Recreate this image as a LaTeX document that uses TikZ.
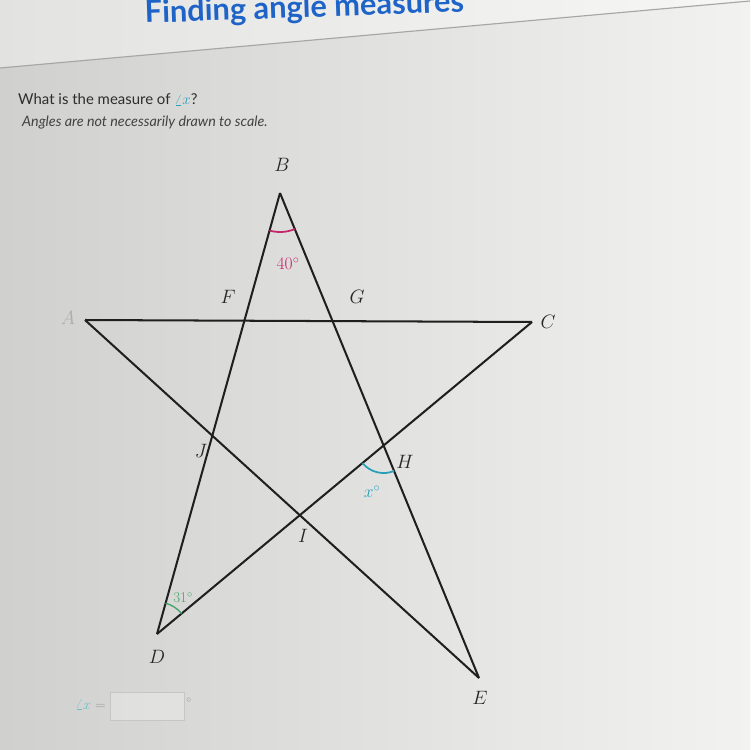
\RequirePackage{fix-cm}
\documentclass[tikz,border=0pt]{standalone}
\usepackage{fontspec}
\newfontfamily\latofont{Lato}
\usetikzlibrary{angles}
\definecolor{magentaarc}{RGB}{196,40,106}
\definecolor{tealarc}{RGB}{40,160,185}
\definecolor{greenarc}{RGB}{70,165,110}
\definecolor{headblue}{RGB}{30,100,200}
\definecolor{bgl}{RGB}{208,208,206}
\definecolor{bgr}{RGB}{242,242,240}
\definecolor{txt}{RGB}{45,45,45}
\tikzset{
  edge/.style={line width=2.3pt, black!88},
  vlabel/.style={font=\fontsize{22}{22}\selectfont, text=black!85, inner sep=0pt},
  anglelabel/.style={font=\fontsize{20}{20}\selectfont, inner sep=0pt},
  arcline/.style={line width=2pt},
}
\begin{document}
\begin{tikzpicture}[x=0.04cm,y=0.04cm]
\useasboundingbox (0,0) rectangle (750,-750);
\clip (0,0) rectangle (750,-750);
\shade[left color=bgl,right color=bgr] (0,0) rectangle (750,-750);
\fill[white,opacity=0.4] (0,0) -- (0,-68) -- (750,-1) -- (750,0) -- cycle;
\coordinate (hl) at (0,-68);
\coordinate (hr) at (750,-1);
\draw[gray!70, line width=1.3pt] (hl) -- (hr);

% header and question
\node[anchor=base west, rotate=2, inner sep=0pt, text=headblue,
      font=\latofont\bfseries\fontsize{35}{35}\selectfont] (title) at (145,-23) {Finding angle measures};
\node[anchor=base west, inner sep=0pt, text=txt,
      font=\latofont\fontsize{17}{17}\selectfont] (q1) at (18,-105)
      {What is the measure of \textcolor{tealarc}{$\angle x$}?};
\node[anchor=base west, inner sep=0pt, text=txt!90,
      font=\latofont\itshape\fontsize{16.3}{16.3}\selectfont] (q2) at (22,-127)
      {Angles are not necessarily drawn to scale.};

% vertices
\coordinate (A) at (85,-320);
\coordinate (B) at (280,-193);
\coordinate (C) at (532,-322);
\coordinate (D) at (157,-634);
\coordinate (E) at (479,-678);

\draw[edge] (A) -- (C);
\draw[edge] (B) -- (D);
\draw[edge] (B) -- (E);
\draw[edge] (A) -- (E);
\draw[edge] (C) -- (D);

\coordinate (F) at (intersection of A--C and B--D);
\coordinate (G) at (intersection of A--C and B--E);
\coordinate (H) at (intersection of C--D and B--E);
\coordinate (I) at (intersection of C--D and A--E);
\coordinate (J) at (intersection of B--D and A--E);

% angle marks
\pic[draw=magentaarc, arcline, angle radius=1.56cm] {angle=D--B--E};
\pic[draw=tealarc, arcline, angle radius=1.1cm] {angle=D--H--E};
\pic[draw=greenarc, line width=1.6pt, angle radius=1.28cm] {angle=C--D--B};

% labels
\node[vlabel, text=gray!65] (lA) at (68,-318) {$A$};
\node[vlabel] (lB) at (282,-165) {$B$};
\node[vlabel] (lC) at (548,-322) {$C$};
\node[vlabel] (lD) at (157,-657) {$D$};
\node[vlabel] (lE) at (480,-698) {$E$};
\node[vlabel] (lF) at (228,-297) {$F$};
\node[vlabel] (lG) at (357,-297) {$G$};
\node[vlabel] (lH) at (405,-462) {$H$};
\node[vlabel] (lI) at (303,-536) {$I$};
\node[vlabel] (lJ) at (201,-451) {$J$};

\node[anglelabel, text=magentaarc] (l40) at (288,-264) {40$^\circ$};
\node[anglelabel, text=tealarc] (lx) at (372,-492) {$x^\circ$};
\node[anglelabel, text=greenarc, font=\fontsize{17}{17}\selectfont] (l31) at (183,-598) {31$^\circ$};

% answer line
\node[anchor=base east, inner sep=0pt, font=\fontsize{16}{16}\selectfont, text=gray!80] (ansl) at (106,-709)
      {\textcolor{tealarc!70}{$\angle x$} $=$};
\node[draw=gray!45, fill=white, fill opacity=0.25, draw opacity=1, line width=0.8pt,
      minimum width=2.96cm, minimum height=1.12cm, inner sep=0pt] (ans) at (147,-706) {};
\node[inner sep=0pt, font=\fontsize{16}{16}\selectfont, text=gray!80] (deg) at (189,-703) {$^\circ$};
\end{tikzpicture}
\end{document}
